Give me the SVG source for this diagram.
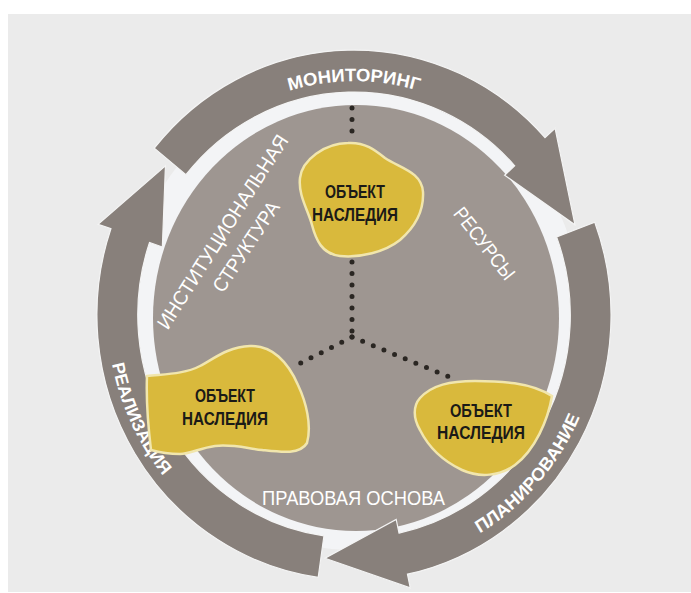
<svg xmlns="http://www.w3.org/2000/svg" width="691" height="593" viewBox="0 0 691 593">
<defs>
<style>
.ring{fill:#88807b;stroke:#f4f4f4;stroke-width:1.2}
.blob{fill:#d9b93c;stroke:#f1e6ad;stroke-width:2.5}
.bt{font-family:"Liberation Sans Narrow","Liberation Sans",Arial,sans-serif;font-weight:bold;font-size:18px;fill:#1b1a17;text-anchor:middle}
.lbl{font-family:"Liberation Sans Narrow","Liberation Sans",Arial,sans-serif;font-size:20px;fill:#ffffff;text-anchor:middle}
.rl{font-family:"Liberation Sans",Arial,sans-serif;font-weight:bold;font-size:18px;fill:#ffffff;text-anchor:middle}
.dots{fill:none;stroke:#2a2622;stroke-width:5;stroke-linecap:round;stroke-dasharray:0 11.5}
</style>
<path id="pMon" d="M -202.6 -117 A 234 234 0 0 1 202.6 -117"/>
<path id="pPlan" d="M -50.6 248.9 A 254 254 0 0 0 240.9 -80.6"/>
<path id="pReal" d="M -208.6 -145.0 A 254 254 0 0 0 -21.3 253.1"/>
</defs>
<rect x="0" y="0" width="691" height="593" fill="#ffffff"/>
<rect x="8" y="14" width="683" height="578" fill="#ebebeb"/>
<ellipse cx="354" cy="315" rx="228" ry="235" fill="#f3f4f6"/>
<ellipse id="disk" cx="356" cy="318" rx="203" ry="213" fill="#9e9691"/>

<g id="cycle" transform="translate(354 315) scale(0.97 1)">
  <g id="arrow-monitoring">
    <path class="ring" d="M -205.9 -166.8 A 265 265 0 0 1 196.9 -177.3 L 207.3 -186.7 L 227.8 -90.2 L 155.3 -139.8 L 165.7 -149.2 A 223 223 0 0 0 -173.3 -140.3 Z"/>
    <text class="rl" font-size="20"><textPath href="#pMon" startOffset="50%" textLength="135" lengthAdjust="spacingAndGlyphs">МОНИТОРИНГ</textPath></text>
  </g>
  <g id="arrow-planning">
    <path class="ring" d="M 248.2 -92.8 A 265 265 0 0 1 55.1 259.2 L 58.0 272.9 L -29.9 243.2 L 43.5 204.4 L 46.4 218.1 A 223 223 0 0 0 208.9 -78.1 Z"/>
    <text class="rl"><textPath href="#pPlan" startOffset="50%" textLength="158" lengthAdjust="spacingAndGlyphs">ПЛАНИРОВАНИЕ</textPath></text>
  </g>
  <g id="arrow-realization">
    <path class="ring" d="M -36.9 262.4 A 265 265 0 0 1 -250.6 -86.3 L -263.8 -90.8 L -194.4 -149.2 L -197.6 -68.0 L -210.8 -72.6 A 223 223 0 0 0 -31.0 220.8 Z"/>
    <text class="rl"><textPath href="#pReal" startOffset="50%" textLength="125" lengthAdjust="spacingAndGlyphs">РЕАЛИЗАЦИЯ</textPath></text>
  </g>
</g>

<g id="labels">
  <text class="lbl" transform="translate(228.4 235.5) rotate(-57.5)" textLength="226" lengthAdjust="spacingAndGlyphs">ИНСТИТУЦИОНАЛЬНАЯ</text>
  <text class="lbl" transform="translate(251.7 250.5) rotate(-56.5)" textLength="104" lengthAdjust="spacingAndGlyphs">СТРУКТУРА</text>
  <text class="lbl" font-size="19" transform="translate(479 247.7) rotate(52)" textLength="86" lengthAdjust="spacingAndGlyphs">РЕСУРСЫ</text>
  <text class="lbl" font-size="21" x="353.5" y="505" textLength="183" lengthAdjust="spacingAndGlyphs">ПРАВОВАЯ ОСНОВА</text>
</g>

<g id="connectors">
  <path class="dots" d="M 352 108 L 352 140"/>
  <path class="dots" d="M 352 262 L 352 337"/>
  <path class="dots" d="M 352 337 L 293 367"/>
  <path class="dots" d="M 352 337 L 452 378"/>
</g>

<g id="node-top">
  <path class="blob" d="M 348 143 C 365 142 375 150 385 158 C 400 168 422 172 423 192 C 424 212 414 228 400 240 C 385 252 360 258 340 256 C 322 254 316 240 312 225 C 308 210 298 195 300 178 C 302 160 325 143 348 143 Z"/>
  <text class="bt" x="355" y="198" textLength="60" lengthAdjust="spacingAndGlyphs">ОБЪЕКТ</text>
  <text class="bt" x="355" y="221" textLength="86" lengthAdjust="spacingAndGlyphs">НАСЛЕДИЯ</text>
</g>
<g id="node-left">
  <path class="blob" d="M 147 376 C 165 374 185 374 200 366 C 215 358 228 347 250 346 C 272 345 288 362 298 385 C 306 402 312 425 307 443 C 300 455 280 452 262 450 C 245 448 232 444 215 446 C 200 448 190 454 180 454 C 168 454 158 452 151 450 C 148 425 146 400 147 376 Z"/>
  <text class="bt" x="225" y="402" textLength="60" lengthAdjust="spacingAndGlyphs">ОБЪЕКТ</text>
  <text class="bt" x="225" y="425" textLength="86" lengthAdjust="spacingAndGlyphs">НАСЛЕДИЯ</text>
</g>
<g id="node-right">
  <path class="blob" d="M 420 398 C 432 385 450 381 475 381 C 500 381 530 382 552 396 C 548 420 535 450 515 465 C 500 476 480 478 462 470 C 445 462 430 450 420 430 C 413 418 413 406 420 398 Z"/>
  <text class="bt" x="481" y="417" textLength="62" lengthAdjust="spacingAndGlyphs">ОБЪЕКТ</text>
  <text class="bt" x="481" y="439" textLength="88" lengthAdjust="spacingAndGlyphs">НАСЛЕДИЯ</text>
</g>
</svg>
